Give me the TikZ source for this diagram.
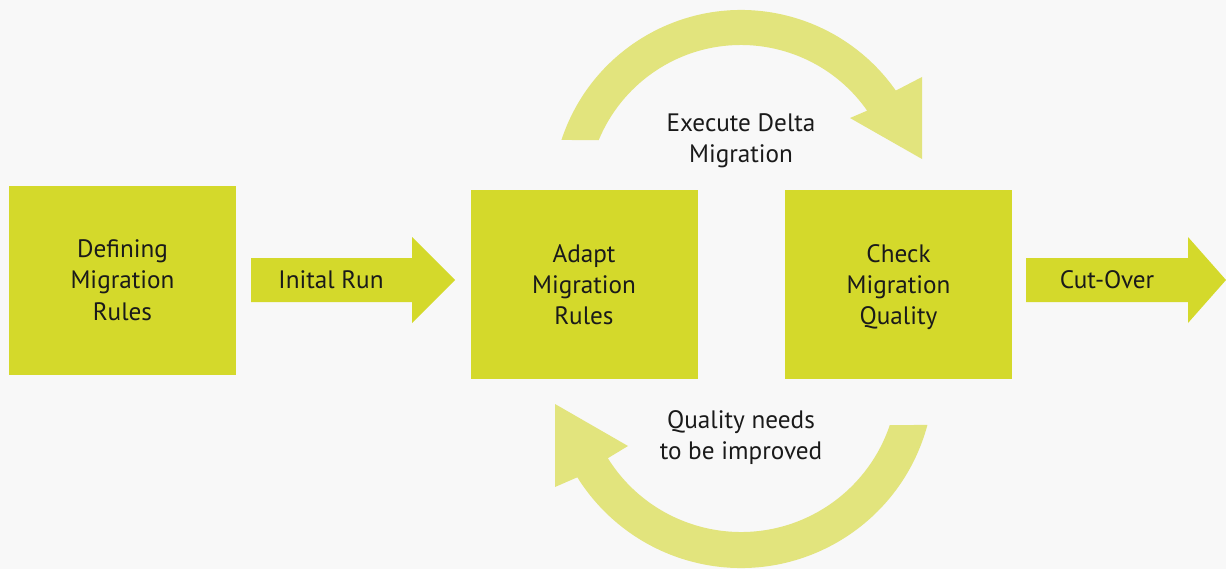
\documentclass[tikz,border=0pt]{standalone}
\usepackage{fontspec}
\setmainfont{PT Sans}
\usetikzlibrary{calc,positioning}
\definecolor{boxgreen}{RGB}{212,217,43}
\definecolor{loopgreen}{RGB}{226,228,125}
\definecolor{bggray}{RGB}{248,248,248}
\definecolor{txtgray}{RGB}{26,26,26}
\tikzset{
  stepbox/.style={fill=boxgreen,minimum width=113.5pt,minimum height=94.5pt,inner sep=0pt,
    align=center,text=txtgray,text depth=0pt,font=\fontsize{12.6}{15.7}\selectfont},
  label/.style={align=center,text=txtgray,text depth=0pt,font=\fontsize{12.6}{15.7}\selectfont,inner sep=0pt}
}
\begin{document}
\begin{tikzpicture}[x=0.5pt,y=0.5pt]
\fill[bggray] (0,0) rectangle (1226,569);
\useasboundingbox (0,0) rectangle (1226,569);
% boxes
\node[stepbox] (def) at (122.5,289) {Defining\\Migration\\Rules};
\node[stepbox] (adapt) at (584,284.5) {Adapt\\Migration\\Rules};
\node[stepbox] (check) at (898.5,284.5) {Check\\Migration\\Quality};
% straight arrows
\fill[boxgreen] (251,267)--(412,267)--(412,246)--(455,289)--(412,332)--(412,311)--(251,311)--cycle;
\fill[boxgreen] (1026,267)--(1188,267)--(1188,246)--(1226,289)--(1188,332)--(1188,311)--(1026,311)--cycle;
\node[label] (run) at (331,289) {Inital Run};
\node[label] (cut) at (1107,289) {Cut-Over};
% loop arrows
\coordinate (ctop) at (741,370);
\coordinate (cbot) at (741,194);
\fill[loopgreen] ($(ctop)+(161.8:94.5pt)$) arc[start angle=161.8,end angle=35,radius=94.5pt]
  -- (922,492) -- (922,410) -- (850,451) -- ($(ctop)+(35:77pt)$)
  arc[start angle=35,end angle=157.5,radius=77pt] -- cycle;
\fill[loopgreen] ($(cbot)+(-15:96.5pt)$) arc[start angle=-15,end angle=-148,radius=96.5pt]
  -- (555,82) -- (555,165) -- (628,123) -- ($(cbot)+(-148:78.5pt)$)
  arc[start angle=-148,end angle=-18.6,radius=78.5pt] -- cycle;
\node[label] (delta) at (741,431) {Execute Delta\\Migration};
\node[label] (improve) at (741,134) {Quality needs\\to be improved};
\end{tikzpicture}
\end{document}
